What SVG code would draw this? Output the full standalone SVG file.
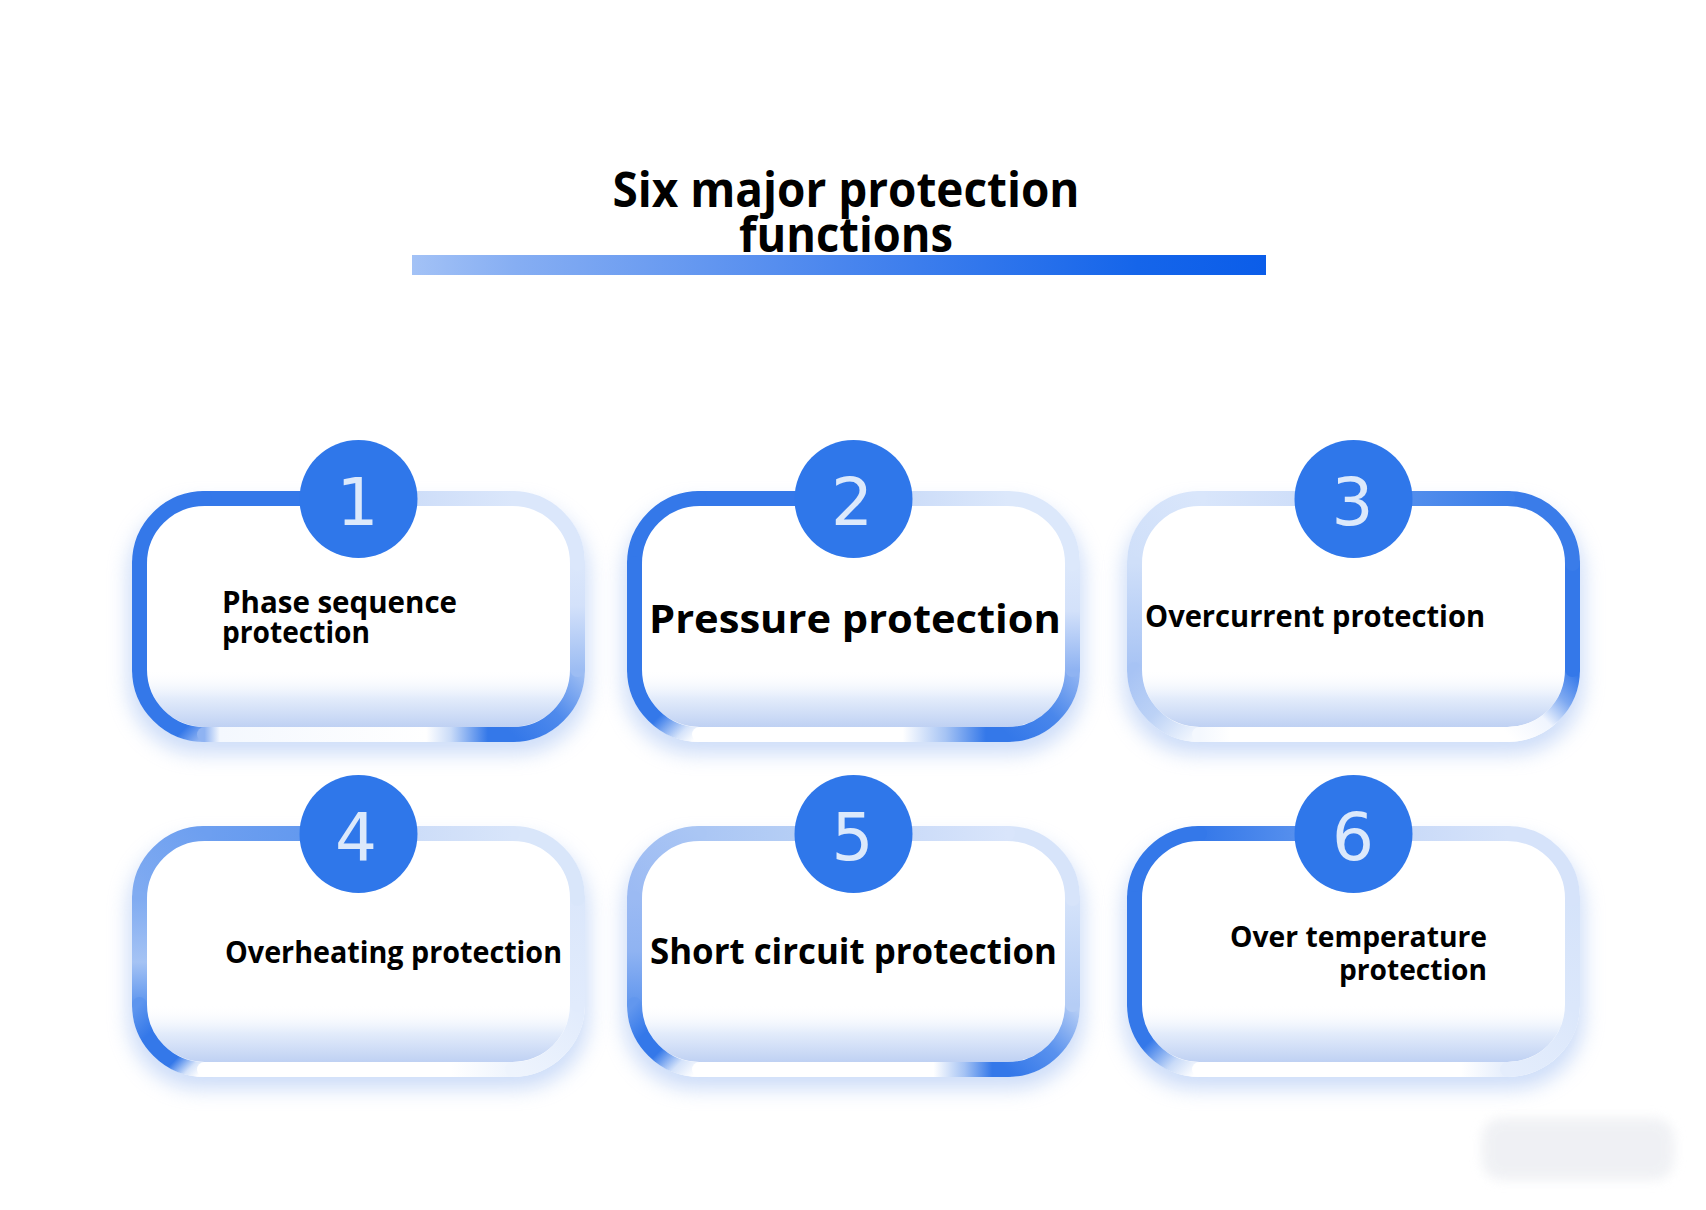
<svg xmlns="http://www.w3.org/2000/svg" width="1706" height="1210" viewBox="0 0 1706 1210">
<style>
.seg{fill:none;stroke-width:15;stroke-linecap:round}
.lbl{font-family:"Open Sans","Liberation Sans",sans-serif;font-weight:700;fill:#000}
.title{font-family:"Open Sans","Liberation Sans",sans-serif;font-weight:700;fill:#000;font-size:48px;text-anchor:middle}
.num{font-family:"DejaVu Sans","Open Sans",sans-serif;font-weight:400;fill:#dce9fb;font-size:66px;text-anchor:middle}
.badge{fill:#2f77ea}
.shadow{fill:#9dbcf2;opacity:0.5}
</style>
<defs>
<filter id="blur" x="-20%" y="-30%" width="140%" height="160%"><feGaussianBlur stdDeviation="10"/></filter>
<filter id="blur6" x="-20%" y="-30%" width="140%" height="160%"><feGaussianBlur stdDeviation="6"/></filter>
<clipPath id="innerClip"><rect x="15" y="15" width="423" height="221" rx="57.5"/></clipPath>
<linearGradient id="gInner" gradientUnits="userSpaceOnUse" x1="0" y1="178" x2="0" y2="236">
<stop offset="0" stop-color="#ffffff" stop-opacity="0"/><stop offset="0.5" stop-color="#e3ecfb"/><stop offset="1" stop-color="#bfd1f3"/>
</linearGradient>
<linearGradient id="gBar" x1="0" y1="0" x2="1" y2="0">
<stop offset="0" stop-color="#a3c2f6"/><stop offset="0.12" stop-color="#86aef3"/><stop offset="0.5" stop-color="#4a86ee"/><stop offset="0.85" stop-color="#1565ea"/><stop offset="1" stop-color="#0b5de9"/>
</linearGradient>
<linearGradient id="sTLh" gradientUnits="userSpaceOnUse" x1="226.5" y1="7.5" x2="72.5" y2="7.5"/>
<linearGradient id="sTLc" gradientUnits="userSpaceOnUse" x1="72.5" y1="7.5" x2="7.5" y2="72.5"/>
<linearGradient id="sL" gradientUnits="userSpaceOnUse" x1="7.5" y1="72.5" x2="7.5" y2="178.5"/>
<linearGradient id="sBLc" gradientUnits="userSpaceOnUse" x1="7.5" y1="178.5" x2="72.5" y2="243.5"/>
<linearGradient id="sB" gradientUnits="userSpaceOnUse" x1="72.5" y1="243.5" x2="380.5" y2="243.5"/>
<linearGradient id="sBRc" gradientUnits="userSpaceOnUse" x1="380.5" y1="243.5" x2="445.5" y2="178.5"/>
<linearGradient id="sR" gradientUnits="userSpaceOnUse" x1="445.5" y1="178.5" x2="445.5" y2="72.5"/>
<linearGradient id="sTRc" gradientUnits="userSpaceOnUse" x1="445.5" y1="72.5" x2="380.5" y2="7.5"/>
<linearGradient id="sTRh" gradientUnits="userSpaceOnUse" x1="380.5" y1="7.5" x2="226.5" y2="7.5"/>

<linearGradient id="b1BLc" href="#sBLc"><stop offset="0" stop-color="#3478e9"/><stop offset="0.8" stop-color="#3478e9"/><stop offset="1" stop-color="#8fb3f2"/></linearGradient>
<linearGradient id="b1B" href="#sB"><stop offset="0" stop-color="#8fb3f2"/><stop offset="0.05" stop-color="#f4f8fe"/><stop offset="0.72" stop-color="#ffffff"/><stop offset="0.8" stop-color="#c9dbf8"/><stop offset="0.92" stop-color="#3478e9"/></linearGradient>
<linearGradient id="b1BRc" href="#sBRc"><stop offset="0" stop-color="#3478e9"/><stop offset="0.5" stop-color="#4f8aec"/><stop offset="1" stop-color="#9dbdf3"/></linearGradient>
<linearGradient id="b1R" href="#sR"><stop offset="0" stop-color="#9dbdf3"/><stop offset="0.6" stop-color="#d3e1fa"/><stop offset="1" stop-color="#dbe7fb"/></linearGradient>
<linearGradient id="b1TRh" href="#sTRh"><stop offset="0" stop-color="#dbe7fb"/><stop offset="1" stop-color="#c6d8f7"/></linearGradient>

<linearGradient id="b2BLc" href="#sBLc"><stop offset="0" stop-color="#3478e9"/><stop offset="0.55" stop-color="#3478e9"/><stop offset="0.85" stop-color="#d5e3fa"/><stop offset="1" stop-color="#ffffff"/></linearGradient>
<linearGradient id="b2B" href="#sB"><stop offset="0" stop-color="#ffffff"/><stop offset="0.66" stop-color="#ffffff"/><stop offset="0.8" stop-color="#a5c3f4"/><stop offset="0.93" stop-color="#3478e9"/></linearGradient>
<linearGradient id="b2BRc" href="#sBRc"><stop offset="0" stop-color="#3478e9"/><stop offset="0.5" stop-color="#4a87eb"/><stop offset="1" stop-color="#8fb3f2"/></linearGradient>
<linearGradient id="b2R" href="#sR"><stop offset="0" stop-color="#8fb3f2"/><stop offset="0.55" stop-color="#d3e1fa"/><stop offset="1" stop-color="#dce8fb"/></linearGradient>
<linearGradient id="b2TRh" href="#sTRh"><stop offset="0" stop-color="#dce8fb"/><stop offset="1" stop-color="#c3d6f7"/></linearGradient>

<linearGradient id="b3TLh" href="#sTLh"><stop offset="0" stop-color="#c9daf8"/><stop offset="1" stop-color="#d9e6fb"/></linearGradient>
<linearGradient id="b3TLc" href="#sTLc"><stop offset="0" stop-color="#d9e6fb"/><stop offset="1" stop-color="#cfdff9"/></linearGradient>
<linearGradient id="b3L" href="#sL"><stop offset="0" stop-color="#cfdff9"/><stop offset="1" stop-color="#a7c3f4"/></linearGradient>
<linearGradient id="b3BLc" href="#sBLc"><stop offset="0" stop-color="#a7c3f4"/><stop offset="0.5" stop-color="#bcd2f6"/><stop offset="1" stop-color="#f4f8fe"/></linearGradient>
<linearGradient id="b3B" href="#sB"><stop offset="0" stop-color="#f4f8fe"/><stop offset="0.1" stop-color="#ffffff"/><stop offset="1" stop-color="#ffffff"/></linearGradient>
<linearGradient id="b3BRc" href="#sBRc"><stop offset="0" stop-color="#ffffff"/><stop offset="0.4" stop-color="#f0f5fe"/><stop offset="0.7" stop-color="#7ea9f1"/><stop offset="1" stop-color="#3478e9"/></linearGradient>
<linearGradient id="b3TRh" href="#sTRh"><stop offset="0" stop-color="#3d7fe9"/><stop offset="1" stop-color="#5e96ee"/></linearGradient>

<linearGradient id="b4TLh" href="#sTLh"><stop offset="0" stop-color="#5e96ee"/><stop offset="1" stop-color="#6d9ff0"/></linearGradient>
<linearGradient id="b4TLc" href="#sTLc"><stop offset="0" stop-color="#6d9ff0"/><stop offset="1" stop-color="#80abf1"/></linearGradient>
<linearGradient id="b4L" href="#sL"><stop offset="0" stop-color="#80abf1"/><stop offset="0.6" stop-color="#a5c3f4"/><stop offset="1" stop-color="#5d95ee"/></linearGradient>
<linearGradient id="b4BLc" href="#sBLc"><stop offset="0" stop-color="#5d95ee"/><stop offset="0.3" stop-color="#3478e9"/><stop offset="0.7" stop-color="#3478e9"/><stop offset="0.88" stop-color="#d5e3fa"/><stop offset="1" stop-color="#ffffff"/></linearGradient>
<linearGradient id="b4B" href="#sB"><stop offset="0" stop-color="#ffffff"/><stop offset="0.8" stop-color="#ffffff"/><stop offset="1" stop-color="#eef4fd"/></linearGradient>
<linearGradient id="b4BRc" href="#sBRc"><stop offset="0" stop-color="#eef4fd"/><stop offset="1" stop-color="#e1ebfc"/></linearGradient>
<linearGradient id="b4R" href="#sR"><stop offset="0" stop-color="#e1ebfc"/><stop offset="1" stop-color="#dbe7fb"/></linearGradient>
<linearGradient id="b4TRh" href="#sTRh"><stop offset="0" stop-color="#d8e5fa"/><stop offset="1" stop-color="#c6d8f7"/></linearGradient>

<linearGradient id="b5TLh" href="#sTLh"><stop offset="0" stop-color="#bcd3f6"/><stop offset="1" stop-color="#aac6f4"/></linearGradient>
<linearGradient id="b5TLc" href="#sTLc"><stop offset="0" stop-color="#aac6f4"/><stop offset="1" stop-color="#9bbaf3"/></linearGradient>
<linearGradient id="b5L" href="#sL"><stop offset="0" stop-color="#9bbaf3"/><stop offset="0.5" stop-color="#8fb3f2"/><stop offset="1" stop-color="#6297ee"/></linearGradient>
<linearGradient id="b5BLc" href="#sBLc"><stop offset="0" stop-color="#6297ee"/><stop offset="0.3" stop-color="#3478e9"/><stop offset="0.55" stop-color="#3478e9"/><stop offset="0.8" stop-color="#d5e3fa"/><stop offset="1" stop-color="#ffffff"/></linearGradient>
<linearGradient id="b5B" href="#sB"><stop offset="0" stop-color="#ffffff"/><stop offset="0.76" stop-color="#ffffff"/><stop offset="0.86" stop-color="#a5c3f4"/><stop offset="0.95" stop-color="#3478e9"/></linearGradient>
<linearGradient id="b5BRc" href="#sBRc"><stop offset="0" stop-color="#3478e9"/><stop offset="0.5" stop-color="#5a92ee"/><stop offset="1" stop-color="#b5cdf5"/></linearGradient>
<linearGradient id="b5R" href="#sR"><stop offset="0" stop-color="#b5cdf5"/><stop offset="1" stop-color="#d5e3fa"/></linearGradient>
<linearGradient id="b5TRh" href="#sTRh"><stop offset="0" stop-color="#d9e5fb"/><stop offset="1" stop-color="#c3d6f7"/></linearGradient>

<linearGradient id="b6TLh" href="#sTLh"><stop offset="0" stop-color="#6a9df0"/><stop offset="1" stop-color="#3478e9"/></linearGradient>
<linearGradient id="b6BLc" href="#sBLc"><stop offset="0" stop-color="#3478e9"/><stop offset="0.4" stop-color="#3478e9"/><stop offset="0.75" stop-color="#c9dbf8"/><stop offset="1" stop-color="#ffffff"/></linearGradient>
<linearGradient id="b6B" href="#sB"><stop offset="0" stop-color="#ffffff"/><stop offset="0.85" stop-color="#ffffff"/><stop offset="1" stop-color="#e4edfc"/></linearGradient>
<linearGradient id="b6BRc" href="#sBRc"><stop offset="0" stop-color="#e4edfc"/><stop offset="1" stop-color="#dbe7fb"/></linearGradient>
<linearGradient id="b6R" href="#sR"><stop offset="0" stop-color="#dbe7fb"/><stop offset="1" stop-color="#d5e3fa"/></linearGradient>
<linearGradient id="b6TRh" href="#sTRh"><stop offset="0" stop-color="#d6e3fa"/><stop offset="1" stop-color="#c2d5f7"/></linearGradient>

<g id="boxBase">
<rect class="shadow" x="-4" y="12" width="461" height="251" rx="72" filter="url(#blur)"/>
<rect x="0" y="0" width="453" height="251" rx="72.5" fill="#ffffff"/>
<rect x="15" y="150" width="423" height="86" fill="url(#gInner)" clip-path="url(#innerClip)"/>
</g>
</defs>

<rect width="1706" height="1210" fill="#ffffff"/>

<rect x="1482" y="1118" width="192" height="62" rx="20" fill="#e9ebf0" opacity="0.7" filter="url(#blur6)"/>

<g id="title">
<rect x="412" y="255" width="854" height="20" fill="url(#gBar)"/>
<text class="title" x="846" y="207" textLength="467" lengthAdjust="spacingAndGlyphs">Six major protection</text>
<text class="title" x="846" y="252" textLength="214" lengthAdjust="spacingAndGlyphs">functions</text>
</g>

<g id="connectors"/>

<g id="node1">
<g transform="translate(132 491)">
<use href="#boxBase"/>
<path class="seg" d="M226.5 7.5H72.5" stroke="#3478e9"/>
<path class="seg" d="M72.5 7.5A65 65 0 0 0 7.5 72.5" stroke="#3478e9"/>
<path class="seg" d="M7.5 72.5V178.5" stroke="#3478e9"/>
<path class="seg" d="M7.5 178.5A65 65 0 0 0 72.5 243.5" stroke="url(#b1BLc)"/>
<path class="seg" d="M72.5 243.5H380.5" stroke="url(#b1B)"/>
<path class="seg" d="M380.5 243.5A65 65 0 0 0 445.5 178.5" stroke="url(#b1BRc)"/>
<path class="seg" d="M445.5 178.5V72.5" stroke="url(#b1R)"/>
<path class="seg" d="M445.5 72.5A65 65 0 0 0 380.5 7.5" stroke="#dbe7fb"/>
<path class="seg" d="M380.5 7.5H226.5" stroke="url(#b1TRh)"/>
<circle class="badge" cx="226.5" cy="8" r="59"/>
<text class="num" x="225.5" y="34">1</text>
</g>
<text class="lbl" font-size="30" x="222" y="613" textLength="235" lengthAdjust="spacingAndGlyphs">Phase sequence</text>
<text class="lbl" font-size="30" x="222" y="643" textLength="148" lengthAdjust="spacingAndGlyphs">protection</text>
</g>

<g id="node2">
<g transform="translate(627 491)">
<use href="#boxBase"/>
<path class="seg" d="M226.5 7.5H72.5" stroke="#3478e9"/>
<path class="seg" d="M72.5 7.5A65 65 0 0 0 7.5 72.5" stroke="#3478e9"/>
<path class="seg" d="M7.5 72.5V178.5" stroke="#3478e9"/>
<path class="seg" d="M7.5 178.5A65 65 0 0 0 72.5 243.5" stroke="url(#b2BLc)"/>
<path class="seg" d="M72.5 243.5H380.5" stroke="url(#b2B)"/>
<path class="seg" d="M380.5 243.5A65 65 0 0 0 445.5 178.5" stroke="url(#b2BRc)"/>
<path class="seg" d="M445.5 178.5V72.5" stroke="url(#b2R)"/>
<path class="seg" d="M445.5 72.5A65 65 0 0 0 380.5 7.5" stroke="#dce8fb"/>
<path class="seg" d="M380.5 7.5H226.5" stroke="url(#b2TRh)"/>
<circle class="badge" cx="226.5" cy="8" r="59"/>
<text class="num" x="225" y="34">2</text>
</g>
<text class="lbl" font-size="39" x="649" y="633" textLength="412" lengthAdjust="spacingAndGlyphs">Pressure protection</text>
</g>

<g id="node3">
<g transform="translate(1127 491)">
<use href="#boxBase"/>
<path class="seg" d="M226.5 7.5H72.5" stroke="url(#b3TLh)"/>
<path class="seg" d="M72.5 7.5A65 65 0 0 0 7.5 72.5" stroke="url(#b3TLc)"/>
<path class="seg" d="M7.5 72.5V178.5" stroke="url(#b3L)"/>
<path class="seg" d="M7.5 178.5A65 65 0 0 0 72.5 243.5" stroke="url(#b3BLc)"/>
<path class="seg" d="M72.5 243.5H380.5" stroke="url(#b3B)"/>
<path class="seg" d="M380.5 243.5A65 65 0 0 0 445.5 178.5" stroke="url(#b3BRc)"/>
<path class="seg" d="M445.5 178.5V72.5" stroke="#3478e9"/>
<path class="seg" d="M445.5 72.5A65 65 0 0 0 380.5 7.5" stroke="#3a7ce9"/>
<path class="seg" d="M380.5 7.5H226.5" stroke="url(#b3TRh)"/>
<circle class="badge" cx="226.5" cy="8" r="59"/>
<text class="num" x="225.5" y="34">3</text>
</g>
<text class="lbl" font-size="31" x="1145" y="627" textLength="340" lengthAdjust="spacingAndGlyphs">Overcurrent protection</text>
</g>

<g id="node4">
<g transform="translate(132 826)">
<use href="#boxBase"/>
<path class="seg" d="M226.5 7.5H72.5" stroke="url(#b4TLh)"/>
<path class="seg" d="M72.5 7.5A65 65 0 0 0 7.5 72.5" stroke="url(#b4TLc)"/>
<path class="seg" d="M7.5 72.5V178.5" stroke="url(#b4L)"/>
<path class="seg" d="M7.5 178.5A65 65 0 0 0 72.5 243.5" stroke="url(#b4BLc)"/>
<path class="seg" d="M72.5 243.5H380.5" stroke="url(#b4B)"/>
<path class="seg" d="M380.5 243.5A65 65 0 0 0 445.5 178.5" stroke="url(#b4BRc)"/>
<path class="seg" d="M445.5 178.5V72.5" stroke="url(#b4R)"/>
<path class="seg" d="M445.5 72.5A65 65 0 0 0 380.5 7.5" stroke="#d9e6fa"/>
<path class="seg" d="M380.5 7.5H226.5" stroke="url(#b4TRh)"/>
<circle class="badge" cx="226.5" cy="8" r="59"/>
<text class="num" x="224" y="34">4</text>
</g>
<text class="lbl" font-size="30" x="225" y="963" textLength="337" lengthAdjust="spacingAndGlyphs">Overheating protection</text>
</g>

<g id="node5">
<g transform="translate(627 826)">
<use href="#boxBase"/>
<path class="seg" d="M226.5 7.5H72.5" stroke="url(#b5TLh)"/>
<path class="seg" d="M72.5 7.5A65 65 0 0 0 7.5 72.5" stroke="url(#b5TLc)"/>
<path class="seg" d="M7.5 72.5V178.5" stroke="url(#b5L)"/>
<path class="seg" d="M7.5 178.5A65 65 0 0 0 72.5 243.5" stroke="url(#b5BLc)"/>
<path class="seg" d="M72.5 243.5H380.5" stroke="url(#b5B)"/>
<path class="seg" d="M380.5 243.5A65 65 0 0 0 445.5 178.5" stroke="url(#b5BRc)"/>
<path class="seg" d="M445.5 178.5V72.5" stroke="url(#b5R)"/>
<path class="seg" d="M445.5 72.5A65 65 0 0 0 380.5 7.5" stroke="#d7e4fa"/>
<path class="seg" d="M380.5 7.5H226.5" stroke="url(#b5TRh)"/>
<circle class="badge" cx="226.5" cy="8" r="59"/>
<text class="num" x="225.5" y="34">5</text>
</g>
<text class="lbl" font-size="36" x="650" y="964" textLength="407" lengthAdjust="spacingAndGlyphs">Short circuit protection</text>
</g>

<g id="node6">
<g transform="translate(1127 826)">
<use href="#boxBase"/>
<path class="seg" d="M226.5 7.5H72.5" stroke="url(#b6TLh)"/>
<path class="seg" d="M72.5 7.5A65 65 0 0 0 7.5 72.5" stroke="#3478e9"/>
<path class="seg" d="M7.5 72.5V178.5" stroke="#3478e9"/>
<path class="seg" d="M7.5 178.5A65 65 0 0 0 72.5 243.5" stroke="url(#b6BLc)"/>
<path class="seg" d="M72.5 243.5H380.5" stroke="url(#b6B)"/>
<path class="seg" d="M380.5 243.5A65 65 0 0 0 445.5 178.5" stroke="url(#b6BRc)"/>
<path class="seg" d="M445.5 178.5V72.5" stroke="url(#b6R)"/>
<path class="seg" d="M445.5 72.5A65 65 0 0 0 380.5 7.5" stroke="#d6e3fa"/>
<path class="seg" d="M380.5 7.5H226.5" stroke="url(#b6TRh)"/>
<circle class="badge" cx="226.5" cy="8" r="59"/>
<text class="num" x="226" y="34">6</text>
</g>
<text class="lbl" font-size="28" x="1487" y="947" text-anchor="end" textLength="257" lengthAdjust="spacingAndGlyphs">Over temperature</text>
<text class="lbl" font-size="28" x="1487" y="980" text-anchor="end" textLength="148" lengthAdjust="spacingAndGlyphs">protection</text>
</g>
</svg>
